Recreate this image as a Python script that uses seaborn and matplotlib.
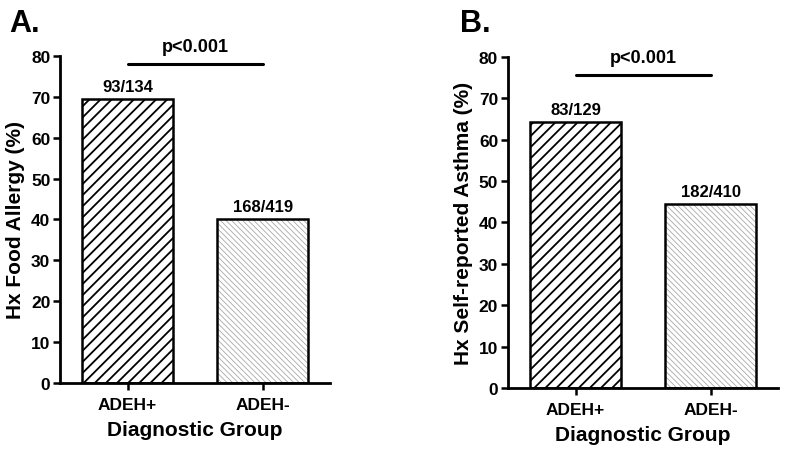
import matplotlib
matplotlib.use("Agg")
import matplotlib.pyplot as plt
import matplotlib.patches as mpatches
import seaborn as sns
import pandas as pd

groups = ["ADEH+", "ADEH-"]
food_pct = [69.4, 40.1]
food_labels = ["93/134", "168/419"]
asthma_pct = [64.3, 44.4]
asthma_labels = ["83/129", "182/410"]
p_text = "p<0.001"
food_sig_y = 78
asthma_sig_y = 75.6
yticks = [0, 10, 20, 30, 40, 50, 60, 70, 80]

sns.set_theme(style="ticks")
plt.rcParams["font.family"] = ["Liberation Sans", "DejaVu Sans"]
plt.rcParams["font.weight"] = "bold"
plt.rcParams["text.color"] = "black"
plt.rcParams["axes.labelcolor"] = "black"
plt.rcParams["hatch.linewidth"] = 1.3

fig = plt.figure(figsize=(7.9, 4.56), dpi=100)
ax_a = fig.add_axes([0.076, 0.158, 0.342, 0.717])
ax_b = fig.add_axes([0.643, 0.147, 0.342, 0.726])


def panel(ax, values, labels, ylabel, sig_y):
    df = pd.DataFrame({"group": groups, "pct": values})
    sns.barplot(data=df, x="group", y="pct", order=groups, ax=ax,
                color="white", width=0.67, saturation=1)
    # left bar: coarse black hatch, right bar: fine grey hatch
    styles = [("///", "black", 1.3), ("\\\\\\\\\\\\", "#a8a8a8", 0.6)]
    for patch, (hatch, hcol, hlw), lab in zip(ax.patches, styles, labels):
        patch.set_hatch(hatch)
        patch.set_edgecolor(hcol)
        patch.set_linewidth(0)
        if hasattr(patch, "set_hatch_linewidth"):
            patch.set_hatch_linewidth(hlw)
        x0, y0 = patch.get_x(), patch.get_y()
        w, h = patch.get_width(), patch.get_height()
        ax.add_patch(mpatches.Rectangle((x0, y0), w, h, fill=False,
                                        edgecolor="black", linewidth=1.8, zorder=3))
        ax.text(x0 + w / 2, h + 1.2, lab, ha="center", va="bottom",
                fontsize=12, fontweight="bold")
    ax.plot([0, 1], [sig_y, sig_y], color="black", lw=2.2, clip_on=False)
    ax.text(0.5, sig_y + 2.2, p_text, ha="center", va="bottom",
            fontsize=13, fontweight="bold")
    ax.set_xlim(-0.5, 1.5)
    ax.set_ylim(0, 80)
    ax.set_yticks(yticks)
    ax.set_ylabel(ylabel, fontsize=15, fontweight="bold", labelpad=4)
    ax.set_xlabel("Diagnostic Group", fontsize=15, fontweight="bold", labelpad=6)
    ax.tick_params(axis="both", labelsize=12.5, width=1.8, length=5, direction="out",
                   color="black", labelcolor="black", pad=2)
    ax.tick_params(axis="x", pad=5)
    for t in ax.get_xticklabels() + ax.get_yticklabels():
        t.set_fontweight("bold")
    sns.despine(ax=ax)
    for s in ["left", "bottom"]:
        ax.spines[s].set_linewidth(2.0)
        ax.spines[s].set_color("black")


panel(ax_a, food_pct, food_labels, "Hx Food Allergy (%)", food_sig_y)
panel(ax_b, asthma_pct, asthma_labels, "Hx Self-reported Asthma (%)", asthma_sig_y)

fig.text(0.012, 0.915, "A.", fontsize=22, fontweight="bold", ha="left", va="bottom")
fig.text(0.582, 0.915, "B.", fontsize=22, fontweight="bold", ha="left", va="bottom")

fig.savefig("out.png", dpi=100)
